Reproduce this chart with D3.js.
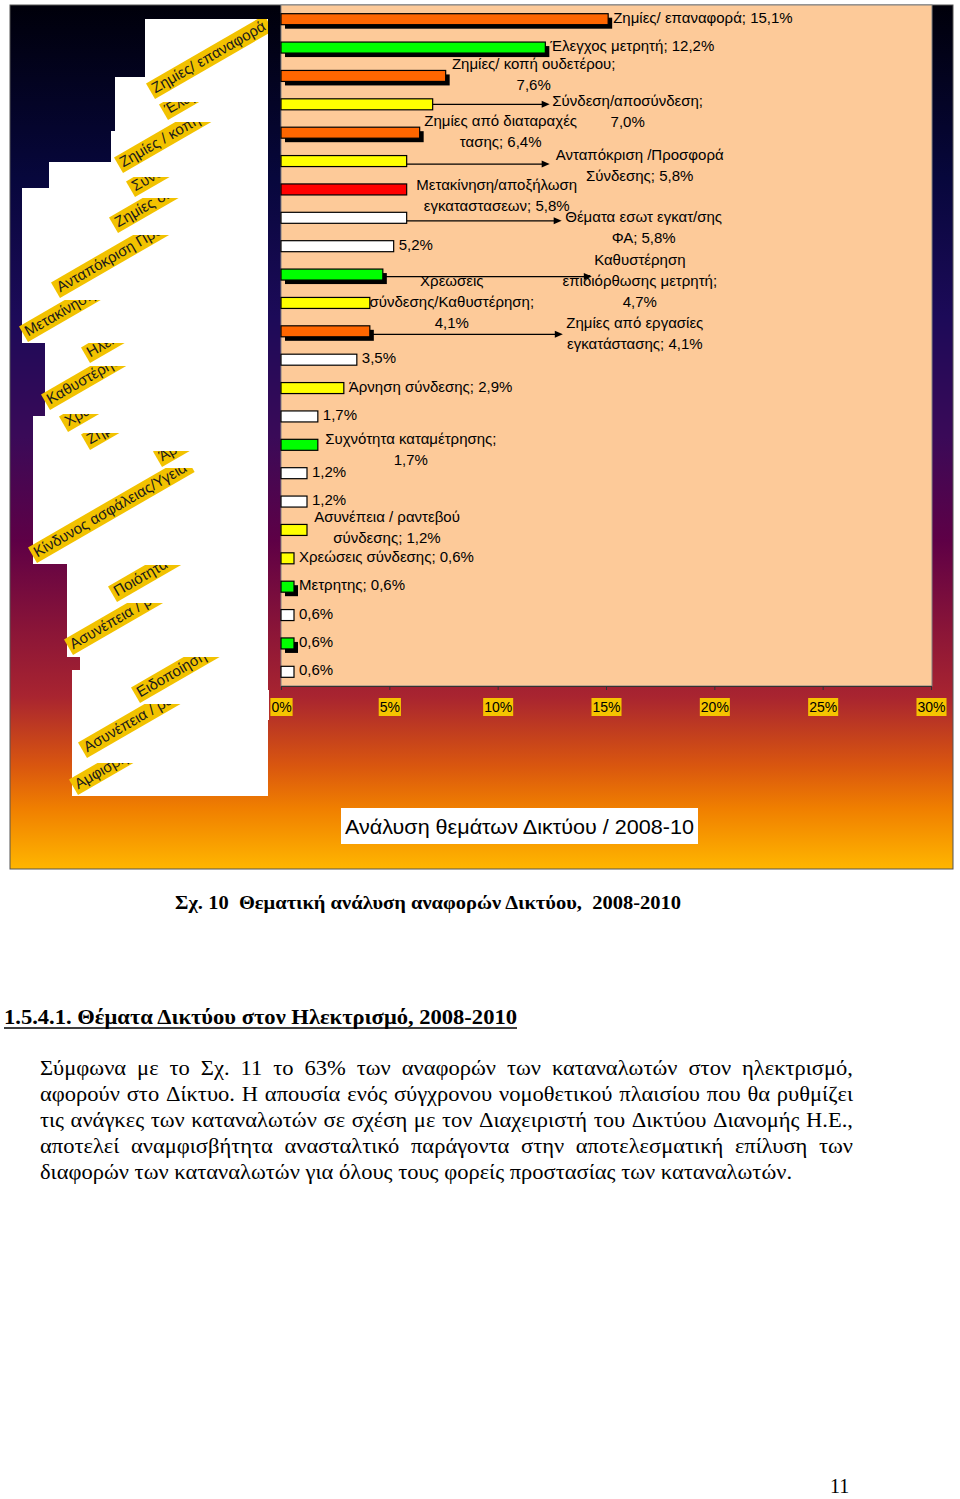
<!DOCTYPE html>
<html><head><meta charset="utf-8">
<script src="https://cdn.jsdelivr.net/npm/d3@7"></script>
<style>body{margin:0;background:#fff}svg{display:block}</style>
</head><body>
<svg id="c" width="960" height="1499"></svg>
<script>
// ---------------- DATA ----------------
const categories = [
  "Ζημίες/ επαναφορά","Έλεγχος μετρητή","Ζημίες/ κοπή ουδετέρου","Σύνδεση/αποσύνδεση",
  "Ζημίες από διαταραχές τασης","Ανταπόκριση /Προσφορά Σύνδεσης","Μετακίνηση/αποξήλωση εγκαταστασεων",
  "Θέματα εσωτ εγκατ/σης ΦΑ","Ηλεκτροδότηση","Καθυστέρηση επιδιόρθωσης μετρητή",
  "Χρεωσεις σύνδεσης/Καθυστέρηση","Ζημίες από εργασίες εγκατάστασης","Λοιπά θέματα",
  "Άρνηση σύνδεσης","Κίνδυνος ασφάλειας/Υγεία","Συχνότητα καταμέτρησης","Ποιότητα τάσης",
  "Διακοπές","Ασυνέπεια / ραντεβού σύνδεσης","Χρεώσεις σύνδεσης","Μετρητης",
  "Ειδοποίηση","Ένδειξη μετρητή","Αμφισβήτηση"
];
const values = [15.1,12.2,7.6,7.0,6.4,5.8,5.8,5.8,5.2,4.7,4.1,4.1,3.5,2.9,1.7,1.7,1.2,1.2,1.2,0.6,0.6,0.6,0.6,0.6];
const series = [
  "Ζημίες","Μετρητής","Ζημίες","Σύνδεση","Ζημίες","Σύνδεση","Εγκατάσταση","Λοιπά","Λοιπά","Μετρητής",
  "Σύνδεση","Ζημίες","Λοιπά","Σύνδεση","Λοιπά","Καταμέτρηση","Λοιπά","Λοιπά","Σύνδεση","Σύνδεση",
  "Μετρητής","Λοιπά","Μετρητής","Λοιπά"
];
// visible label text (name lines; "" = value on its own line; [] = value only)
const labelNameLines = [
  ["Ζημίες/ επαναφορά"],["Έλεγχος μετρητή"],["Ζημίες/ κοπή ουδετέρου;",""],["Σύνδεση/αποσύνδεση;",""],
  ["Ζημίες από διαταραχές","τασης"],["Ανταπόκριση /Προσφορά","Σύνδεσης"],["Μετακίνηση/αποξήλωση","εγκαταστασεων"],
  ["Θέματα εσωτ εγκατ/σης","ΦΑ"],[],["Καθυστέρηση","επιδιόρθωσης μετρητή;",""],
  ["Χρεωσεις","σύνδεσης/Καθυστέρηση;",""],["Ζημίες από εργασίες","εγκατάστασης"],[],
  ["Άρνηση σύνδεσης"],[],["Συχνότητα καταμέτρησης;",""],[],[],["Ασυνέπεια / ραντεβού","σύνδεσης"],
  ["Χρεώσεις σύνδεσης"],["Μετρητης"],[],[],[]
];
const xTicks = [0,5,10,15,20,25,30];
const axisTags = [
  "Ζημίες/ επαναφορά","Έλεγχος μετρητή","Ζημίες / κοπή ουδετέρου","Σύνδεση/αποσύνδεση","Ζημίες διαταραχές",
  "Ανταπόκριση Προσφορά","Μετακίνηση/αποξήλωση","Ηλεκτροδότηση","Καθυστέρηση επιδιόρθωσης","Χρεώσεις σύνδεσης",
  "Ζημίες από εργασίες","Άρνηση σύνδεσης","Κίνδυνος ασφάλειας/Υγεία","Ποιότητα τάσης","Ασυνέπεια / ραντεβού",
  "Ειδοποίηση  ","Ασυνέπεια / ραντεβού","Αμφισβήτηση"
];
const chartTitle = "Ανάλυση θεμάτων Δικτύου / 2008-10";
const captionText = "Σχ. 10  Θεματική ανάλυση αναφορών Δικτύου,  2008-2010";
const headingText = "1.5.4.1. Θέματα Δικτύου στον Ηλεκτρισμό, 2008-2010";
const paragraphLines = [
  "Σύμφωνα με το Σχ. 11 το 63% των αναφορών των καταναλωτών στον ηλεκτρισμό,",
  "αφορούν στο Δίκτυο. Η απουσία ενός σύγχρονου νομοθετικού πλαισίου που θα ρυθμίζει",
  "τις ανάγκες των καταναλωτών σε σχέση με τον Διαχειριστή του Δικτύου Διανομής Η.Ε.,",
  "αποτελεί αναμφισβήτητα ανασταλτικό παράγοντα στην αποτελεσματική επίλυση των",
  "διαφορών των καταναλωτών για όλους τους φορείς προστασίας των καταναλωτών."
];
const pageNumber = "11";

// ---------------- STYLE / LAYOUT ----------------
const seriesStyle = {
  "Ζημίες":{fill:"#FF6600",shadow:true},
  "Μετρητής":{fill:"#00FF00",shadow:true},
  "Καταμέτρηση":{fill:"#00FF00",shadow:false},
  "Σύνδεση":{fill:"#FFFF00",shadow:false},
  "Εγκατάσταση":{fill:"#FF0000",shadow:false},
  "Λοιπά":{fill:"#FFFFFF",shadow:false}
};
const labelLayout = [
  {mode:"right"},{mode:"right"},{mode:"center",dx:88,dy:-12},{mode:"center",dx:195,dy:-3,arrow:117,ady:0},
  {mode:"center",dx:81,dy:-12},{mode:"center",dx:233,dy:-6,arrow:143,ady:3},{mode:"center",dx:90,dy:-4},
  {mode:"center",dx:237,dy:-1,arrow:155,ady:3},{mode:"right"},{mode:"center",dx:257,dy:-15,arrow:209,ady:2},
  {mode:"center",dx:82,dy:-22},{mode:"center",dx:265,dy:-8,arrow:193,ady:3},{mode:"right"},{mode:"right"},
  {mode:"right"},{mode:"center",dx:93,dy:-6},{mode:"right"},{mode:"right"},{mode:"center",dx:80,dy:-13},
  {mode:"right"},{mode:"right"},{mode:"right"},{mode:"right"},{mode:"right"}
];
// rotated axis tags: [lowest corner x, y, clip top y]
const tagLayout = [
  [155,99,19],[168,120,102],[123,173,122],[135,197,177],[118,233,198],[60,298,235],[28,342,300],
  [90,363,343],[50,410,366],[68,432,414],[90,450,433],[162,467,451],[37,563,468],[117,602,565],
  [73,655,603],[140,703,657],[87,758,704],[78,795,763]
];
const whitePanel = [[145,19],[268,19],[268,796],[72,796],[72,670],[80,670],[80,657],[67,657],[67,564],
  [33,564],[33,416],[45,416],[45,343],[22,343],[22,188],[49,188],[49,162],[111,162],[111,131],[115,131],[115,77],[145,77]];

const SANS = "'Liberation Sans', Arial, sans-serif";
const SERIF = "'Liberation Serif', 'Times New Roman', serif";
const fmt = v => v.toFixed(1).replace(".", ",") + "%";

const svg = d3.select("#c");
const defs = svg.append("defs");

// frame with gradient
const grad = defs.append("linearGradient").attr("id","bg").attr("x1",0).attr("y1",0).attr("x2",0).attr("y2",1);
[[0,"#00000a"],[0.2,"#07073c"],[0.36,"#1c0a58"],[0.5,"#3a0a58"],[0.62,"#5e0046"],[0.72,"#891438"],
 [0.8,"#a82430"],[0.88,"#d9560f"],[0.93,"#f07f00"],[1,"#ffb600"]]
  .forEach(([o,c]) => grad.append("stop").attr("offset",o).attr("stop-color",c));
const frame = {x:10,y:5,w:943,h:864};
svg.append("rect").attr("x",frame.x).attr("y",frame.y).attr("width",frame.w).attr("height",frame.h)
  .attr("fill","url(#bg)").attr("stroke","#555").attr("stroke-width",1);

// white panel
svg.append("polygon").attr("points", whitePanel.map(p=>p.join(",")).join(" ")).attr("fill","#fff");

// axis tags
const tagG = svg.append("g");
axisTags.forEach((t,i) => {
  const [tx,ty,cy] = tagLayout[i];
  const cid = "tc"+i;
  defs.append("clipPath").attr("id",cid).append("rect")
    .attr("x",10).attr("y",cy).attr("width",258).attr("height",796-cy);
  const outer = tagG.append("g").attr("clip-path",`url(#${cid})`);
  const g = outer.append("g").attr("transform",`translate(${tx},${ty}) rotate(-30)`);
  const r = g.append("rect").attr("x",0).attr("y",-18).attr("height",18).attr("fill","#F2C200");
  const tt = g.append("text").attr("x",3).attr("y",-4.5).attr("font-family",SANS).attr("font-size",15)
    .attr("fill","#1a1a1a").style("white-space","pre").text(t);
  r.attr("width", tt.node().getComputedTextLength()+8);
});

// plot
const plot = {x0:281,x1:931,y0:5,y1:686};
const x = d3.scaleLinear().domain([0,30]).range([plot.x0,plot.x1]);
const y = d3.scaleBand().domain(d3.range(values.length)).range([plot.y0,plot.y1]);
svg.append("rect").attr("x",plot.x0).attr("y",plot.y0).attr("width",932-plot.x0).attr("height",plot.y1-plot.y0)
  .attr("fill","#FDCA99").attr("stroke","#808080").attr("stroke-width",1);

const cyOf = i => y(i) + y.bandwidth()/2;
const barH = 11;

// leader arrows
const arrowG = svg.append("g");
labelLayout.forEach((L,i) => {
  if (!L.arrow) return;
  const xe = x(values[i]), yy = cyOf(i) + L.ady, xt = xe + L.arrow;
  arrowG.append("line").attr("x1",xe).attr("x2",xt-5).attr("y1",yy).attr("y2",yy).attr("stroke","#000").attr("stroke-width",1.2);
  arrowG.append("path").attr("d",`M${xt},${yy} L${xt-8},${yy-3.5} L${xt-8},${yy+3.5} Z`).attr("fill","#000");
});

// bars
const barG = svg.append("g");
values.forEach((v,i) => {
  const st = seriesStyle[series[i]];
  const yy = cyOf(i) - barH/2;
  if (st.shadow) barG.append("rect").attr("x",x(0)+4).attr("y",yy+4).attr("width",x(v)-x(0)).attr("height",barH).attr("fill","#000");
  barG.append("rect").attr("x",x(0)).attr("y",yy).attr("width",x(v)-x(0)).attr("height",barH)
    .attr("fill",st.fill).attr("stroke","#000").attr("stroke-width",1.2);
});

// labels
const labG = svg.append("g").attr("font-family",SANS).attr("font-size",15).attr("fill","#000");
values.forEach((v,i) => {
  const names = labelNameLines[i].slice();
  let lines;
  if (names.length === 0) lines = [fmt(v)];
  else if (names[names.length-1] === "") { names[names.length-1] = fmt(v); lines = names; }
  else { names[names.length-1] += "; " + fmt(v); lines = names; }
  const L = labelLayout[i], xe = x(v), cy = cyOf(i);
  if (L.mode === "right") {
    labG.append("text").attr("x",xe+5).attr("y",cy-1.5+5).text(lines[0]);
  } else {
    lines.forEach((ln,k) => {
      labG.append("text").attr("x",xe+L.dx).attr("y",cy+L.dy+k*21+5).attr("text-anchor","middle").text(ln);
    });
  }
});

// x axis
const ax = svg.append("g").attr("transform",`translate(0,${plot.y1})`)
  .call(d3.axisBottom(x).tickValues(xTicks).tickSize(4).tickSizeOuter(0).tickFormat(d=>d+"%"));
ax.select(".domain").attr("stroke","#333");
ax.selectAll(".tick line").attr("stroke","#333");
ax.selectAll(".tick text").attr("font-family",SANS).attr("font-size",14).attr("fill","#000").attr("y",16);
ax.selectAll(".tick").each(function(){
  const t = d3.select(this).select("text");
  const b = t.node().getBBox();
  d3.select(this).insert("rect","text").attr("x",b.x-1).attr("y",12).attr("width",b.width+2).attr("height",18).attr("fill","#F5C400");
});
// white panel covers left part of 0% label
svg.append("rect").attr("x",258).attr("y",690).attr("width",11).attr("height",30).attr("fill","#fff");

// title box
svg.append("rect").attr("x",341).attr("y",808).attr("width",357).attr("height",36).attr("fill","#fff");
svg.append("text").attr("x",345).attr("y",834).attr("font-family",SANS).attr("font-size",21)
  .attr("textLength",349).attr("lengthAdjust","spacingAndGlyphs").text(chartTitle);

// caption
svg.append("text").attr("x",175).attr("y",909).attr("font-family",SERIF).attr("font-weight","bold")
  .attr("font-size",19).style("white-space","pre").attr("textLength",506).attr("lengthAdjust","spacingAndGlyphs").text(captionText);

// heading
svg.append("text").attr("x",4).attr("y",1024).attr("font-family",SERIF).attr("font-weight","bold")
  .attr("font-size",21).attr("textLength",513).attr("lengthAdjust","spacingAndGlyphs").text(headingText);
svg.append("line").attr("x1",4).attr("x2",517).attr("y1",1028).attr("y2",1028).attr("stroke","#000").attr("stroke-width",1.5);

// paragraph (justified)
const para = svg.append("g").attr("font-family",SERIF).attr("font-size",21).attr("fill","#000");
const measure = s => { const t = para.append("text").style("white-space","pre").text(s); const w = t.node().getComputedTextLength(); t.remove(); return w; };
const pLeft = 40, pRight = 853, lastRight = 792;
const kx = (lastRight - pLeft) / measure(paragraphLines[paragraphLines.length-1]);
const spaceW = (measure("a a") - measure("aa")) * kx;
paragraphLines.forEach((ln,li) => {
  const words = ln.split(" ");
  const ws = words.map(w => measure(w)*kx);
  const isLast = li === paragraphLines.length-1;
  const gap = isLast ? spaceW : (pRight - pLeft - d3.sum(ws)) / (words.length-1);
  let xx = pLeft;
  const by = 1075 + li*26;
  words.forEach((w,k) => {
    para.append("text").attr("transform",`translate(${xx},${by}) scale(${kx},1)`).text(w);
    xx += ws[k] + gap;
  });
});

// page number
svg.append("text").attr("x",830).attr("y",1493).attr("font-family",SERIF).attr("font-size",20).text(pageNumber);
</script>
</body></html>
